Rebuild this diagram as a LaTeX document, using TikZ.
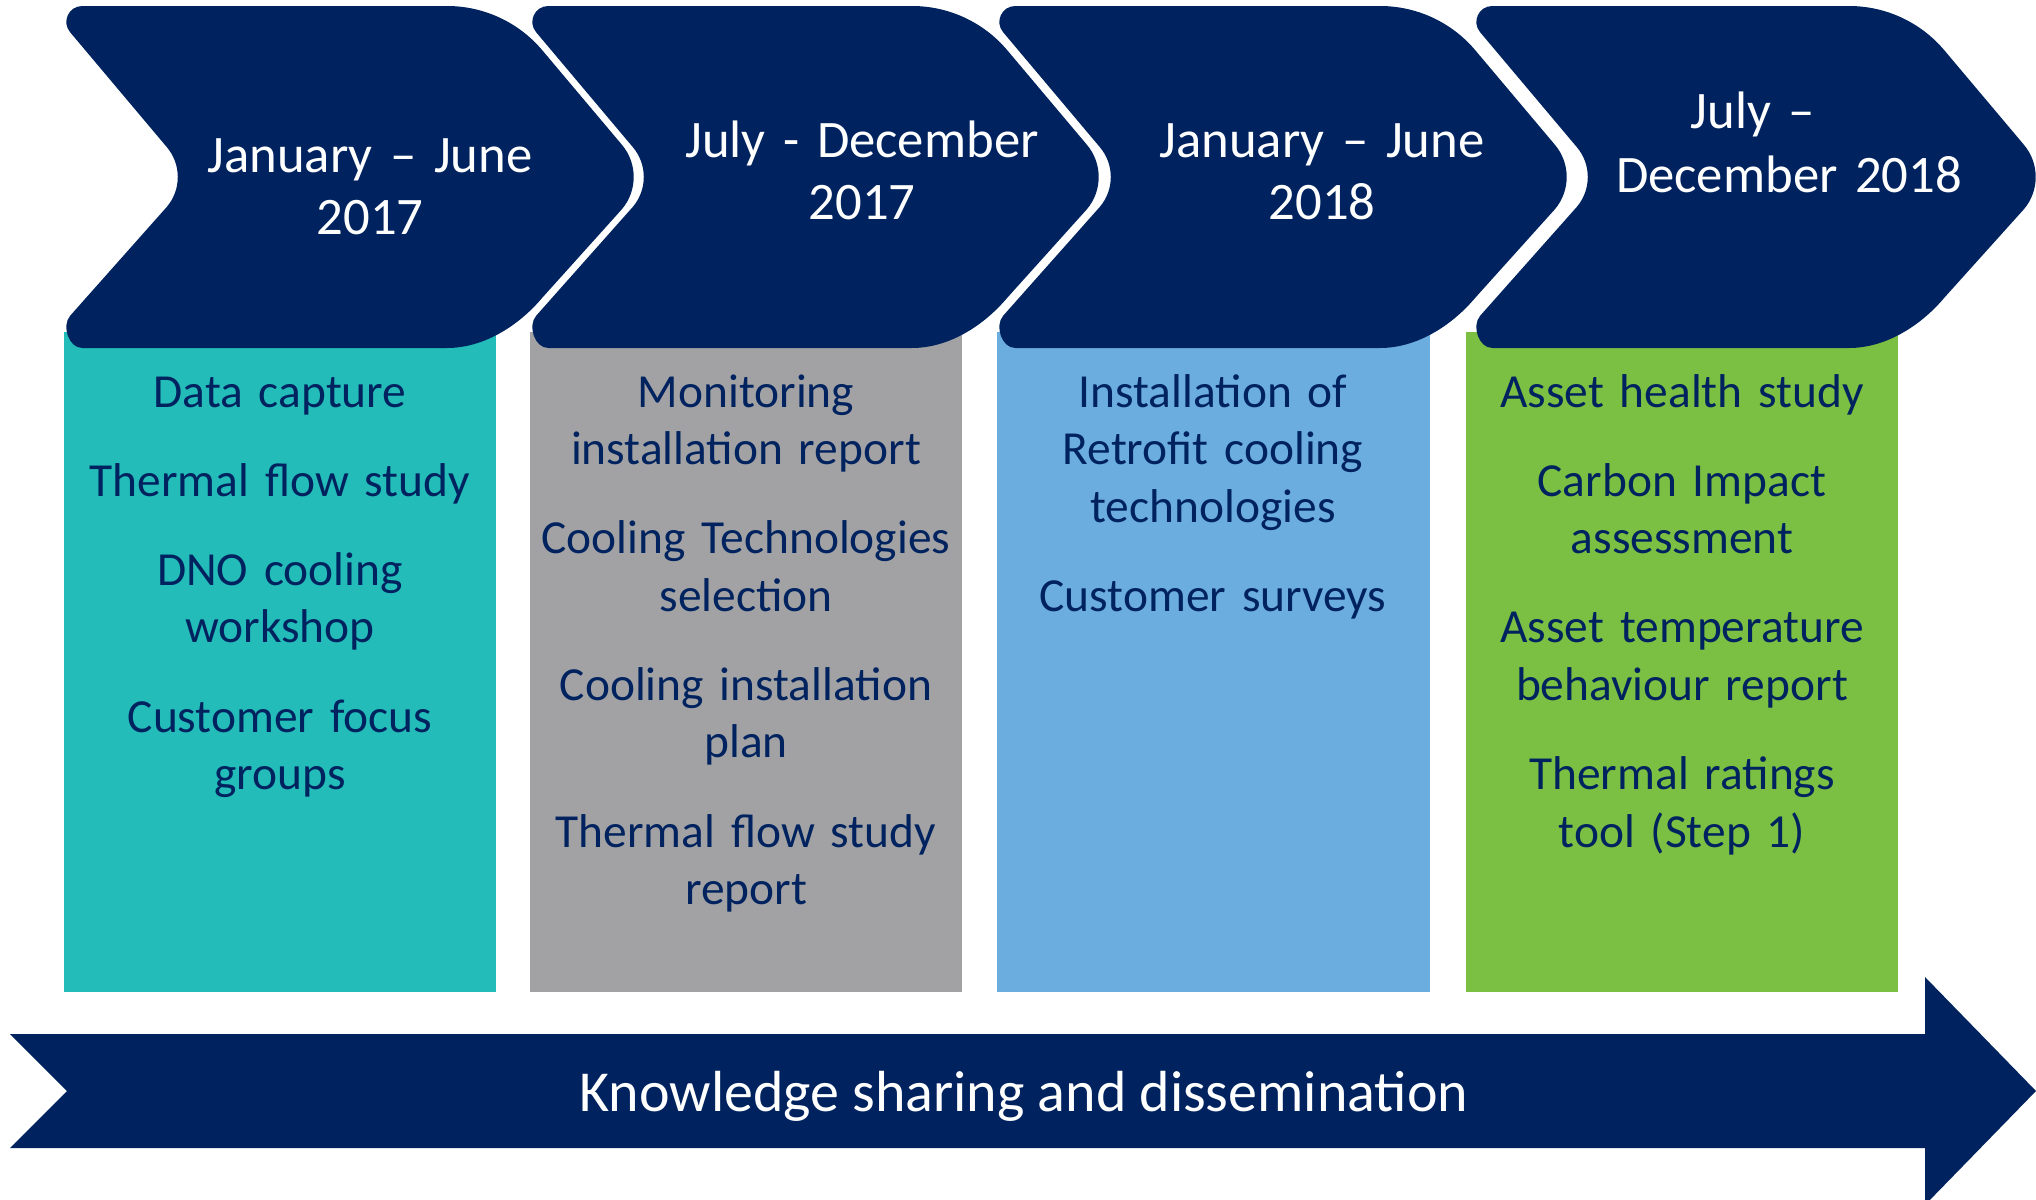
\documentclass[tikz,border=0pt]{standalone}
\usepackage{fontspec}
\setmainfont{Carlito}
\definecolor{navy}{RGB}{0,35,95}
\definecolor{tealbox}{RGB}{35,188,185}
\definecolor{graybox}{RGB}{162,162,164}
\definecolor{bluebox}{RGB}{108,173,223}
\definecolor{greenbox}{RGB}{123,192,67}
% chevron: #1 = left vertex x, #2 = right (top) vertex x
\newcommand\chevshape[2]{%
  \fill[navy] ({#1+34.3},6) -- ({#2-58},6)
    .. controls ({#2-21.2},6) and ({#2+13.7},22.2) .. ({#2+37.4},50.4)
    -- ({#2+117},144.9)
    .. controls ({#2+132.6},163.5) and ({#2+132.6},190.5) .. ({#2+117},209.1)
    -- ({#2+37.4},297.6)
    .. controls ({#2+13.7},325.8) and ({#2-21.2},348) .. ({#2-58},348)
    -- ({#1+34.3},348)
    .. controls ({#1+20.7},348) and ({#1+13.35},326.2) .. ({#1+22.1},315.8)
    -- ({#1+118.9},206.8)
    .. controls ({#1+133.4},189.6) and ({#1+133.4},164.4) .. ({#1+118.9},147.2)
    -- ({#1+22.1},32.2)
    .. controls ({#1+13.35},21.8) and ({#1+20.7},6) .. ({#1+34.3},6) -- cycle;}
\tikzset{
  headtext/.style={text=white, inner sep=0pt, anchor=base, align=center, text width=420pt,
    font=\fontsize{30}{35.7}\selectfont},
  itemtext/.style={text=navy, inner sep=0pt, anchor=base, align=center, text width=300pt,
    font=\fontsize{27}{32.75}\selectfont},
  bandtext/.style={text=white, inner sep=0pt, anchor=base, font=\fontsize{33}{40}\selectfont}
}
\begin{document}
\begin{tikzpicture}[x=0.02cm,y=-0.02cm]
\useasboundingbox (0,0) rectangle (2036,1200);
\clip (0,0) rectangle (2036,1200);
% coloured boxes
\fill[tealbox]  (64,332)   rectangle (496,992);
\fill[graybox]  (530,332)  rectangle (962,992);
\fill[bluebox]  (997,332)  rectangle (1430,992);
\fill[greenbox] (1466,332) rectangle (1898,992);
% chevrons
\chevshape{48}{505}
\chevshape{514}{970}
\chevshape{981}{1438}
\chevshape{1458}{1907}
% header texts
\node[headtext] (h1) at (370,172) {January -- June\\2017};
\node[headtext] (h2) at (862,157) {July - December\\2017};
\node[headtext] (h3) at (1322,157) {January -- June\\2018};
\node[headtext] (h4) at (1789,128) {July --\makebox[41pt]{}\\[1.1pt]December 2018};
% box texts
\node[itemtext] (b1) at (280,407) {Data capture\\[18pt]Thermal flow study\\[18pt]DNO cooling\\workshop\\[18pt]Customer focus\\groups};
\node[itemtext] (b2) at (746,407) {Monitoring\\installation report\\[18pt]Cooling Technologies\\selection\\[18pt]Cooling installation\\plan\\[18pt]Thermal flow study\\report};
\node[itemtext] (b3) at (1213,407) {Installation of\\Retrofit cooling\\technologies\\[18pt]Customer surveys};
\node[itemtext] (b4) at (1682,407) {Asset health study\\[18pt]Carbon Impact\\assessment\\[18pt]Asset temperature\\behaviour report\\[18pt]Thermal ratings\\tool (Step 1)};
% bottom arrow
\fill[navy] (10,1034) -- (1925,1034) -- (1925,977) -- (2036,1091) -- (1925,1205)
  -- (1925,1148) -- (10,1148) -- (67,1091) -- cycle;
\node[bandtext] (band) at (1024,1111) {Knowledge sharing and dissemination};
\end{tikzpicture}
\end{document}
